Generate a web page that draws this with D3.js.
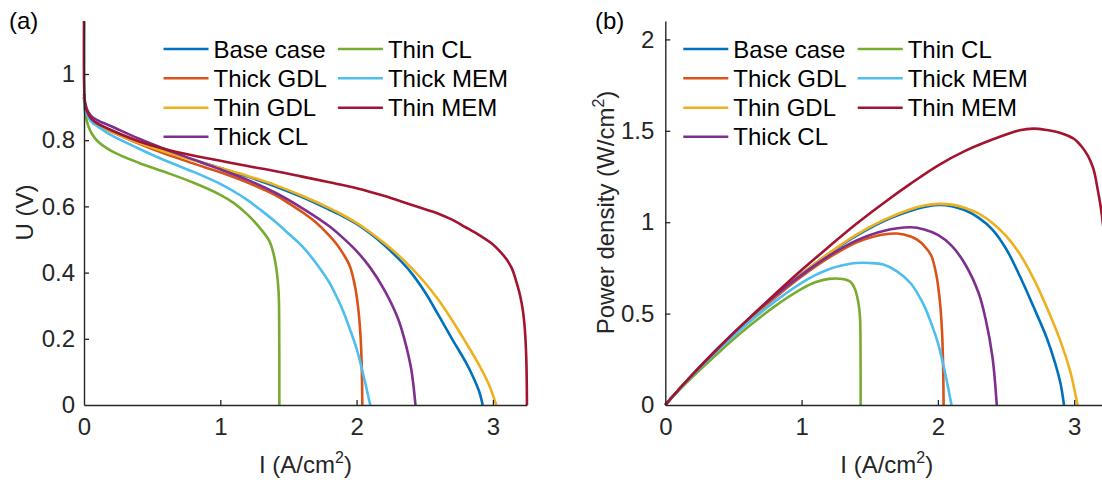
<!DOCTYPE html>
<html>
<head>
<meta charset="utf-8">
<script src="https://cdn.jsdelivr.net/npm/d3@7"></script>
<style>
  html, body { margin: 0; padding: 0; background: #fff; }
  svg { display: block; }
  text { font-family: "Liberation Sans", Arial, Helvetica, sans-serif; }
</style>
</head>
<body>
<svg id="chart" width="1102" height="480"></svg>
<script>
// ---------- data ----------
const seriesNames = ["Base case", "Thick GDL", "Thin GDL", "Thick CL", "Thin CL", "Thick MEM", "Thin MEM"];
const seriesColors = ["#0072BD", "#D95319", "#EDB120", "#7E2F8E", "#77AC30", "#4DBEEE", "#A2142F"];

const xTicks = [0, 1, 2, 3];
const uTicks = [0, 0.2, 0.4, 0.6, 0.8, 1];
const pTicks = [0, 0.5, 1, 1.5, 2];

// Base case
const I_base = [0, 0.01, 0.03, 0.06, 0.1, 0.2, 0.4, 0.6, 0.8, 1.0, 1.2, 1.4, 1.6, 1.8, 1.9, 2.0, 2.1, 2.2, 2.3, 2.4, 2.5, 2.6, 2.7, 2.8, 2.86, 2.9, 2.925];
const U_base = [0.93, 0.90, 0.876, 0.86, 0.85, 0.83, 0.795, 0.766, 0.741, 0.716, 0.69, 0.661, 0.628, 0.59, 0.57, 0.547, 0.518, 0.484, 0.445, 0.40, 0.342, 0.272, 0.20, 0.13, 0.08, 0.04, 0];
const P_base = [0, 0.009, 0.026, 0.052, 0.085, 0.166, 0.318, 0.46, 0.593, 0.716, 0.828, 0.925, 1.005, 1.062, 1.083, 1.094, 1.088, 1.065, 1.024, 0.96, 0.855, 0.707, 0.54, 0.364, 0.229, 0.116, 0];

// Thick GDL
const I_thickGDL = [0, 0.01, 0.03, 0.06, 0.1, 0.2, 0.4, 0.6, 0.8, 1.0, 1.2, 1.4, 1.5, 1.6, 1.7, 1.8, 1.85, 1.9, 1.95, 1.99, 2.015, 2.03, 2.038, 2.042];
const U_thickGDL = [0.93, 0.90, 0.874, 0.857, 0.847, 0.826, 0.79, 0.758, 0.73, 0.703, 0.672, 0.635, 0.61, 0.583, 0.552, 0.512, 0.488, 0.458, 0.42, 0.355, 0.28, 0.20, 0.11, 0];
const P_thickGDL = [0, 0.009, 0.026, 0.051, 0.085, 0.165, 0.316, 0.455, 0.584, 0.703, 0.806, 0.889, 0.915, 0.933, 0.938, 0.922, 0.903, 0.87, 0.819, 0.706, 0.564, 0.406, 0.224, 0];

// Thin GDL
const I_thinGDL = [0, 0.01, 0.03, 0.06, 0.1, 0.2, 0.4, 0.6, 0.8, 1.0, 1.2, 1.4, 1.6, 1.8, 1.9, 2.0, 2.1, 2.2, 2.3, 2.4, 2.5, 2.6, 2.7, 2.8, 2.9, 2.97, 3.0, 3.025];
const U_thinGDL = [0.93, 0.90, 0.875, 0.858, 0.848, 0.827, 0.792, 0.764, 0.74, 0.716, 0.692, 0.665, 0.632, 0.595, 0.574, 0.55, 0.522, 0.49, 0.455, 0.415, 0.37, 0.318, 0.257, 0.19, 0.12, 0.063, 0.03, 0];
const P_thinGDL = [0, 0.009, 0.026, 0.051, 0.085, 0.165, 0.317, 0.458, 0.592, 0.716, 0.83, 0.931, 1.011, 1.071, 1.091, 1.10, 1.096, 1.078, 1.047, 0.996, 0.925, 0.827, 0.694, 0.532, 0.348, 0.187, 0.09, 0];

// Thick CL
const I_thickCL = [0, 0.01, 0.03, 0.06, 0.1, 0.2, 0.4, 0.6, 0.8, 1.0, 1.2, 1.4, 1.6, 1.8, 1.9, 2.0, 2.1, 2.2, 2.3, 2.35, 2.4, 2.432];
const U_thickCL = [0.94, 0.91, 0.886, 0.87, 0.86, 0.842, 0.805, 0.772, 0.742, 0.712, 0.68, 0.642, 0.595, 0.54, 0.505, 0.465, 0.415, 0.35, 0.265, 0.2, 0.11, 0];
const P_thickCL = [0, 0.009, 0.027, 0.052, 0.086, 0.168, 0.322, 0.463, 0.594, 0.712, 0.816, 0.899, 0.952, 0.972, 0.96, 0.93, 0.872, 0.77, 0.61, 0.47, 0.264, 0];

// Thin CL
const I_thinCL = [0, 0.01, 0.03, 0.06, 0.1, 0.2, 0.4, 0.6, 0.8, 1.0, 1.1, 1.2, 1.3, 1.36, 1.39, 1.415, 1.428, 1.432, 1.433];
const U_thinCL = [0.92, 0.88, 0.845, 0.818, 0.797, 0.768, 0.732, 0.703, 0.672, 0.635, 0.61, 0.575, 0.53, 0.495, 0.458, 0.40, 0.34, 0.25, 0];
const P_thinCL = [0, 0.009, 0.025, 0.049, 0.08, 0.154, 0.293, 0.422, 0.538, 0.635, 0.671, 0.69, 0.689, 0.673, 0.637, 0.566, 0.486, 0.358, 0];

// Thick MEM
const I_thickMEM = [0, 0.01, 0.03, 0.06, 0.1, 0.2, 0.4, 0.6, 0.8, 1.0, 1.1, 1.2, 1.3, 1.4, 1.5, 1.6, 1.7, 1.8, 1.85, 1.9, 1.95, 2.0, 2.05, 2.1];
const U_thickMEM = [0.93, 0.895, 0.87, 0.853, 0.842, 0.815, 0.775, 0.738, 0.705, 0.668, 0.645, 0.619, 0.588, 0.555, 0.518, 0.48, 0.43, 0.37, 0.33, 0.285, 0.23, 0.17, 0.09, 0];
const P_thickMEM = [0, 0.009, 0.026, 0.051, 0.084, 0.163, 0.31, 0.443, 0.564, 0.668, 0.71, 0.743, 0.764, 0.777, 0.777, 0.768, 0.731, 0.666, 0.611, 0.542, 0.449, 0.34, 0.185, 0];

// Thin MEM
const I_thinMEM = [0, 0.002, 0.01, 0.03, 0.06, 0.1, 0.2, 0.4, 0.6, 0.8, 1.0, 1.2, 1.4, 1.6, 1.8, 2.0, 2.2, 2.4, 2.6, 2.7, 2.8, 2.9, 3.0, 3.05, 3.1, 3.14, 3.17, 3.2, 3.22, 3.235, 3.245, 3.25];
const U_thinMEM = [1.16, 0.95, 0.905, 0.88, 0.862, 0.85, 0.83, 0.797, 0.773, 0.754, 0.738, 0.722, 0.707, 0.69, 0.673, 0.655, 0.632, 0.605, 0.578, 0.56, 0.537, 0.513, 0.485, 0.465, 0.44, 0.412, 0.375, 0.33, 0.285, 0.225, 0.14, 0];
const P_thinMEM = [0, 0.002, 0.009, 0.026, 0.052, 0.085, 0.166, 0.319, 0.464, 0.603, 0.738, 0.866, 0.99, 1.104, 1.211, 1.31, 1.39, 1.452, 1.503, 1.512, 1.504, 1.488, 1.455, 1.418, 1.364, 1.294, 1.189, 1.056, 0.918, 0.728, 0.454, 0];

const currents = [I_base, I_thickGDL, I_thinGDL, I_thickCL, I_thinCL, I_thickMEM, I_thinMEM];
const voltages = [U_base, U_thickGDL, U_thinGDL, U_thickCL, U_thinCL, U_thickMEM, U_thinMEM];
const powers   = [P_base, P_thickGDL, P_thinGDL, P_thickCL, P_thinCL, P_thickMEM, P_thinMEM];

// ---------- drawing ----------
const svg = d3.select("#chart");
const AXC = "#262626";
const FS = 24;

function panel(opts) {
  const x = d3.scaleLinear().domain([0, 3.25]).range([opts.x0, opts.x0 + 3.25 * 136.3]);
  const y = d3.scaleLinear().domain([0, opts.ymax]).range([405, 405 - opts.ymax * opts.ppu]);
  const g = svg.append("g");

  // curves
  const line = d3.line().x(d => x(d[0])).y(d => y(d[1])).curve(d3.curveCatmullRom.alpha(0.5));
  seriesNames.forEach((name, i) => {
    const pts = currents[i].map((c, k) => [c, opts.values[i][k]]);
    g.append("path").datum(pts)
      .attr("d", line)
      .attr("fill", "none")
      .attr("stroke", seriesColors[i])
      .attr("stroke-width", 2.6)
      .attr("stroke-linejoin", "round")
      .attr("stroke-linecap", "butt");
  });

  // axes
  const xAxis = d3.axisBottom(x).tickValues(xTicks).tickFormat(d3.format("~g"))
    .tickSizeInner(-5).tickSizeOuter(0).tickPadding(13);
  const yAxis = d3.axisLeft(y).tickValues(opts.ticks).tickFormat(d3.format("~g"))
    .tickSizeInner(-5).tickSizeOuter(0).tickPadding(opts.ypad);

  const gx = g.append("g").attr("transform", "translate(0,405)").call(xAxis);
  const gy = g.append("g").attr("transform", `translate(${opts.x0},0)`).call(yAxis);
  [gx, gy].forEach(a => {
    a.select(".domain").attr("stroke", AXC).attr("stroke-width", 1.4);
    a.selectAll(".tick line").attr("stroke", AXC).attr("stroke-width", 1.3);
    a.selectAll(".tick text").attr("fill", AXC).style("font-size", FS + "px")
      .style("font-family", '"Liberation Sans", Arial, sans-serif');
  });
  gx.selectAll(".tick line").filter(d => d === 0).remove();
  gy.selectAll(".tick line").filter(d => d === 0).remove();

  // x title
  const xt = g.append("text")
    .attr("x", (x.range()[0] + x.range()[1]) / 2)
    .attr("y", 473)
    .attr("text-anchor", "middle")
    .attr("fill", AXC)
    .style("font-size", FS + "px");
  xt.append("tspan").text("I (A/cm");
  xt.append("tspan").text("2").attr("dy", -10).style("font-size", "16px");
  xt.append("tspan").text(")").attr("dy", 10);

  // y title
  const yt = g.append("text")
    .attr("transform", `translate(${opts.ytx},212.5) rotate(-90)`)
    .attr("text-anchor", "middle")
    .attr("fill", AXC)
    .style("font-size", FS + "px");
  opts.ytitle(yt);

  // panel label
  g.append("text").attr("x", opts.labelX).attr("y", 29).attr("fill", "#000")
    .style("font-size", FS + "px").text(opts.label);

  // legend
  const lg = g.append("g");
  const rowY = [49, 78.3, 107.7, 136.7];
  seriesNames.forEach((name, i) => {
    const col = i < 4 ? 0 : 1;
    const row = i < 4 ? i : i - 4;
    const lx = opts.legX + col * 174.4;
    const ly = rowY[row];
    lg.append("line").attr("x1", lx).attr("x2", lx + 45).attr("y1", ly).attr("y2", ly)
      .attr("stroke", seriesColors[i]).attr("stroke-width", 2.6);
    lg.append("text").attr("x", lx + 50).attr("y", ly + 8.5).attr("fill", "#000")
      .style("font-size", FS + "px").text(name);
  });
}

panel({
  x0: 84, ymax: 1.161, ppu: 331, ticks: uTicks, values: voltages, ypad: 9,
  ytx: 33, label: "(a)", labelX: 9, legX: 163.5,
  ytitle: t => t.text("U (V)")
});

panel({
  x0: 665.3, ymax: 2.1, ppu: 182.8, ticks: pTicks, values: powers, ypad: 11,
  ytx: 614, label: "(b)", labelX: 595, legX: 683.3,
  ytitle: t => {
    t.append("tspan").text("Power density (W/cm");
    t.append("tspan").text("2").attr("dy", -10).style("font-size", "16px");
    t.append("tspan").text(")").attr("dy", 10);
  }
});
</script>
</body>
</html>
